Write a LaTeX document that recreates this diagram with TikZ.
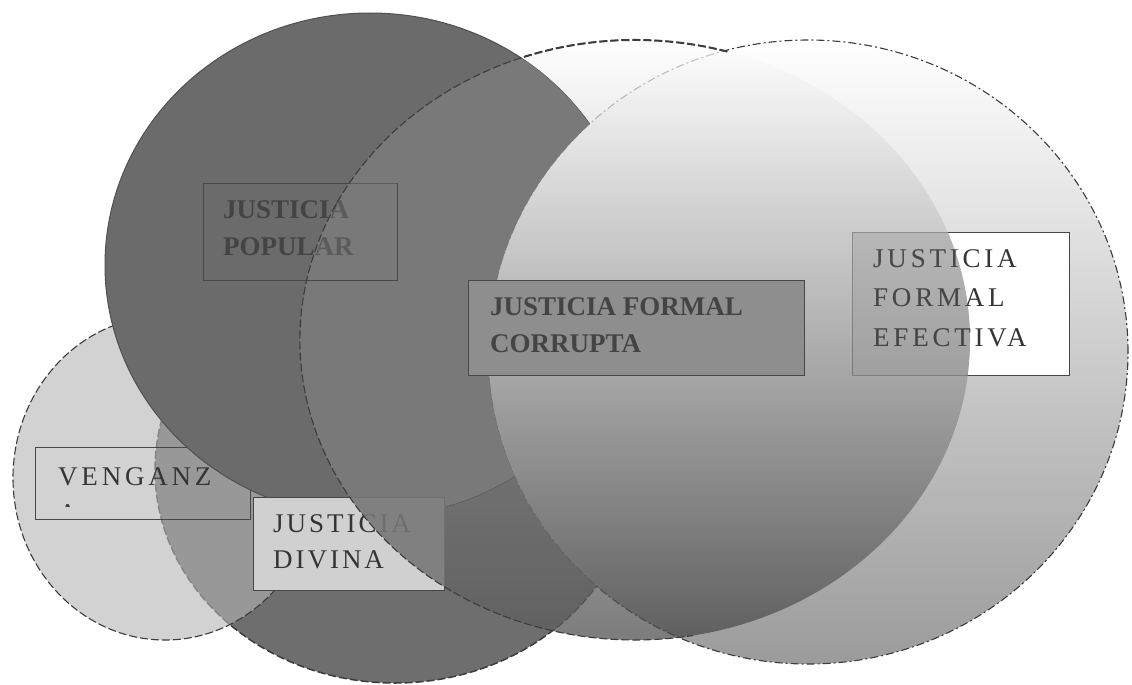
\documentclass[tikz,border=0pt]{standalone}
\usepackage{fontspec}
\setmainfont{Liberation Serif}
\newfontfamily\spacedwide[LetterSpace=14]{Liberation Serif}
\newfontfamily\spacedmid[LetterSpace=11]{Liberation Serif}
\definecolor{popfill}{HTML}{6B6B6B}
\definecolor{popcor}{HTML}{797979}
\definecolor{divfill}{HTML}{6E6E6E}
\definecolor{venfill}{HTML}{B5B5B5}
\definecolor{effbot}{HTML}{9B9B9B}
\definecolor{corbot}{HTML}{454545}
\definecolor{edge}{HTML}{3C3C3C}
\definecolor{boxedge}{HTML}{474747}
\definecolor{txt}{HTML}{353535}
\definecolor{darktxt}{HTML}{444444}
\definecolor{corbox}{HTML}{8E8E8E}
\definecolor{divbox}{HTML}{D0D0D0}
\definecolor{divcov}{HTML}{767676}
\definecolor{shadegray}{HTML}{606060}
\begin{document}
\begin{tikzpicture}[x=1pt,y=-1pt,
  lbl/.style={text=txt, inner sep=0pt, anchor=base west},
  lblwide/.style={lbl, font=\spacedwide\fontsize{27}{30}\selectfont},
  lblmid/.style={lbl, font=\spacedmid\fontsize{27}{30}\selectfont},
  lblbold/.style={lbl, text=darktxt, font=\rmfamily\bfseries\fontsize{27}{30}\selectfont},
  labelbox/.style={draw=boxedge, line width=1.1pt, inner sep=0pt, anchor=north west},
  rimdash/.style={draw=edge, line width=1.3pt, dash pattern=on 8pt off 3pt},
  rimdashdot/.style={draw=edge, line width=1.1pt, dash pattern=on 8pt off 3pt on 2pt off 3pt},
  rimsolid/.style={draw=edge!90, line width=1pt},
  lensshade/.style={top color=white, bottom color=effbot},
  corshade/.style={top color=white, bottom color=corbot, fill opacity=0.7}]
\def\pathVen{(165,478) ellipse [x radius=152pt, y radius=162pt]}
\def\pathDiv{(395,470) ellipse [x radius=240pt, y radius=213pt]}
\def\pathPop{(370,265) ellipse [x radius=265pt, y radius=252pt]}
\def\pathCor{(635,340) ellipse [x radius=335pt, y radius=300pt]}
\def\pathEff{(808,352) ellipse [x radius=320pt, y radius=312pt]}
\useasboundingbox (0,0) rectangle (1132,685);
\fill[white] (0,0) rectangle (1132,685);
% Justicia formal efectiva
\shade[lensshade] \pathEff;
\draw[rimdashdot] \pathEff;
\node[labelbox, fill=white, minimum width=217pt, minimum height=143pt] (efbox) at (852,232) {};
\node[lblwide] (ef1) at (873,267) {JUSTICIA};
\node[lblwide] (ef2) at (873,306) {FORMAL};
\node[lblwide] (ef3) at (873,346) {EFECTIVA};
% Justicia divina ellipse (kept out of the efectiva ellipse)
\begin{scope}[even odd rule]
  \clip (0,0) rectangle (1132,685) \pathEff;
  \fill[divfill] \pathDiv;
  \draw[rimdash, line width=1.5pt] \pathDiv;
\end{scope}
% Venganza
\fill[venfill, fill opacity=0.6] \pathVen;
\draw[rimdash, line width=1.1pt] \pathVen;
\node[labelbox, minimum width=215pt, minimum height=72pt] (venbox) at (35,447) {};
\node[lblwide] (ven1) at (58,485) {VENGANZ};
\begin{scope}
  \clip (35,447) rectangle (250,506);
  \node[lblwide] (ven2) at (58,522) {A};
\end{scope}
% Justicia formal corrupta ellipse
\shade[corshade] \pathCor;
\begin{scope}[even odd rule]
  \clip (0,0) rectangle (1132,685) \pathEff;
  \begin{scope}[nonzero rule]
    \clip \pathCor;
    \clip \pathDiv;
    \fill[divfill, fill opacity=0.55] (0,0) rectangle (1132,685);
  \end{scope}
\end{scope}
% efectiva label seen through the corrupta ellipse
\begin{scope}
  \clip \pathCor;
  \fill[shadegray, fill opacity=0.25] (852,232) rectangle (1069,375);
  \node[lblwide, text opacity=0.75] (ef1b) at (873,267) {JUSTICIA};
  \node[lblwide, text opacity=0.75] (ef2b) at (873,306) {FORMAL};
  \node[lblwide, text opacity=0.75] (ef3b) at (873,346) {EFECTIVA};
\end{scope}
% Justicia popular (kept out of the lens of the two formal ellipses)
\begin{scope}[even odd rule]
  \clip (0,0) rectangle (1132,685) \pathEff;
  \fill[popfill] \pathPop;
  \draw[rimsolid] \pathPop;
  \begin{scope}[nonzero rule]
    \clip \pathPop;
    \clip \pathCor;
    \fill[popcor] (0,0) rectangle (1132,685);
  \end{scope}
\end{scope}
\node[labelbox, minimum width=194pt, minimum height=97pt] (popbox) at (203,183) {};
\node[lblbold] (pop1) at (223,218) {JUSTICIA};
\node[lblbold] (pop2) at (223,255) {POPULAR};
\begin{scope}
  \clip \pathCor;
  \fill[popcor, fill opacity=0.45] (203,183) rectangle (397,280);
\end{scope}
% Justicia divina box
\node[labelbox, fill=divbox, minimum width=191pt, minimum height=93pt] (divbx) at (253,497) {};
\node[lblmid] (div1) at (273,532) {JUSTICIA};
\node[lblmid] (div2) at (273,568) {DIVINA};
\begin{scope}
  \clip \pathCor;
  \clip \pathDiv;
  \fill[divcov, fill opacity=0.88] (253,497) rectangle (445,591);
\end{scope}
% outline of the corrupta ellipse: top, left and bottom
\draw[rimdash, line width=1.1pt] (727.3,51.6) arc[start angle=74, end angle=280, x radius=335pt, y radius=300pt];
\draw[rimdash, line width=2pt] (727.3,51.6) arc[start angle=74, end angle=110, x radius=335pt, y radius=300pt];
% Justicia formal corrupta box
\node[labelbox, fill=corbox, line width=1.4pt, minimum width=336pt, minimum height=95pt] (corbx) at (468,280) {};
\node[lblbold] (cor1) at (490,315) {JUSTICIA FORMAL};
\node[lblbold] (cor2) at (490,352) {CORRUPTA};
\end{tikzpicture}
\end{document}
